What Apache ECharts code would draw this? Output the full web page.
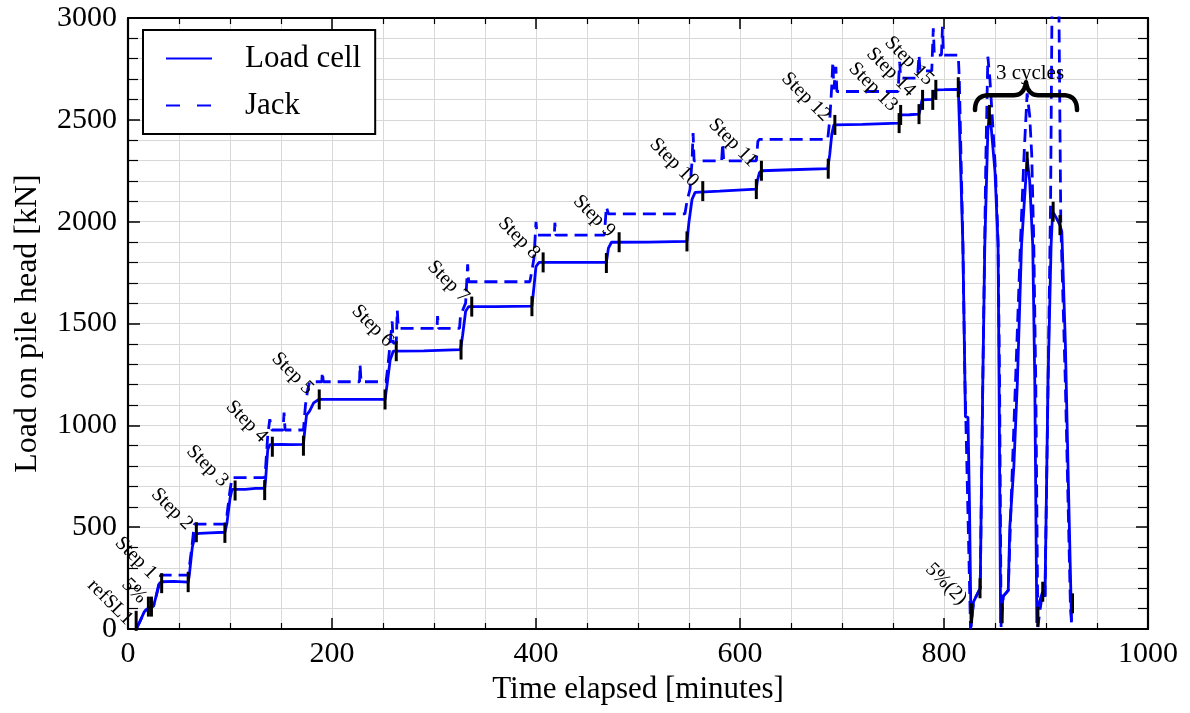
<!DOCTYPE html>
<html>
<head>
<meta charset="utf-8">
<script src="https://cdn.jsdelivr.net/npm/echarts@6/dist/echarts.min.js"></script>
<style>
  html, body { margin: 0; padding: 0; background: #fff; }
  #chart { width: 1190px; height: 713px; }
</style>
</head>
<body>
<div id="chart"></div>
<script>
// Axis ticks (labelled values)
const xTickLabels = [0, 200, 400, 600, 800, 1000];
const yTickLabels = [0, 500, 1000, 1500, 2000, 2500, 3000];

// Load cell reading: [time (min), load (kN)]
const loadCell = [
  [8, 0], [12, 40], [16, 85], [18, 95], [22, 108], [25, 112], [28, 170], [31, 225], [33, 232], [45, 234], [59, 230],
  [60, 260], [63, 400], [66, 466], [70, 470], [80, 472], [95, 475],
  [97, 520], [100, 640], [102, 686], [115, 686], [125, 690], [134, 690],
  [135, 740], [137, 880], [139, 905], [150, 907], [160, 905], [172, 907],
  [173, 960], [175, 1050], [178, 1070], [182, 1110], [187, 1127], [220, 1127], [252, 1127],
  [254, 1200], [257, 1320], [260, 1364], [290, 1366], [326, 1372],
  [328, 1440], [331, 1560], [334, 1583], [360, 1583], [396, 1585],
  [398, 1680], [400, 1780], [403, 1800], [440, 1800], [469, 1800],
  [471, 1870], [474, 1899], [510, 1900], [548, 1903],
  [550, 2000], [553, 2110], [556, 2144], [580, 2150], [616, 2160],
  [617, 2200], [619, 2240], [621, 2250], [650, 2255], [686, 2260],
  [688, 2330], [690, 2430], [692, 2475], [720, 2478], [756, 2484],
  [757, 2505], [758, 2524], [766, 2525], [775.5, 2528],
  [777, 2560], [778.5, 2598], [789, 2600],
  [790.5, 2630], [792, 2647], [800, 2648], [814, 2650],
  [815, 2500], [818.5, 1885], [820.5, 1222], [821, 1042], [823.5, 1040], [825, 600], [826.5, 10],
  [829, 134], [833, 175], [835.5, 200], [838, 1200], [840, 1885], [843, 2450], [844.5, 2530],
  [846.5, 2450], [850, 2245], [853, 1885], [854, 1200], [855.5, 30],
  [858, 160], [863, 190], [864.5, 500], [868.5, 800], [872, 1220], [876, 1885], [881.5, 2310],
  [884, 2200], [887, 1885], [889, 1220], [891, 30],
  [892, 110], [896.5, 180], [899, 160], [902, 1220], [905, 1885], [906.5, 2050], [910, 2020],
  [913.7, 1983], [915.5, 1950], [919, 1400], [922, 700], [925, 40]
];

// Jack pressure converted to load: [time (min), load (kN)]
const jack = [
  [8, 0], [12, 40], [16, 85], [18, 95], [22, 108], [25, 112], [28, 170], [31, 240], [32, 265], [59, 265],
  [60, 300], [63, 420], [65, 515], [95, 515],
  [97, 560], [100, 680], [102, 743], [134, 743],
  [135, 800], [137, 950], [139, 1030], [141, 977], [152, 977], [153, 1062], [154, 977], [172, 977],
  [174, 1100], [176, 1170], [178, 1214], [190, 1214], [190.5, 1262], [191.5, 1214], [227, 1214], [227.5, 1298], [228.5, 1214], [253, 1214],
  [255, 1300], [257, 1404], [259, 1510], [260, 1404], [263, 1404], [264, 1566], [265, 1476], [303, 1476], [303.5, 1536], [304.5, 1476], [325, 1476],
  [326, 1540], [331, 1600], [333, 1790], [334, 1705], [394, 1705],
  [396, 1760], [398, 1820], [400, 1999], [401, 1934], [418, 1934], [418.5, 1995], [419.5, 1934], [467, 1934],
  [469, 2073], [471, 2038], [546, 2038],
  [548, 2100], [551, 2160], [553, 2300], [554, 2435], [555, 2298], [582, 2298], [583, 2386], [584, 2298], [616, 2298],
  [617.5, 2394], [619, 2404], [686, 2404],
  [688, 2500], [690, 2670], [691, 2786], [692, 2650], [694, 2760], [695, 2639], [755, 2639],
  [756.5, 2785], [757.5, 2705], [774, 2705],
  [775.5, 2818], [776.5, 2740], [788, 2740],
  [789.5, 2950], [790.5, 2818], [797.5, 2818], [798.5, 2957], [799.5, 2818], [814, 2818],
  [815, 2700], [818.5, 1900], [820.5, 1220], [822, 900], [826, 0],
  [829, 134], [835.5, 200], [838, 1200], [841, 2300], [843, 2810], [845, 2700], [847.5, 2500],
  [850.5, 2250], [853, 1900], [854.5, 1200], [856, 10],
  [858, 160], [863, 190], [866, 650], [870, 1200], [875, 1900], [878.5, 2330], [881.5, 2630],
  [884, 2520], [886, 2330], [888, 1900], [890, 1200], [892, 10],
  [896.5, 180], [899, 160], [902, 1200], [904.5, 2100], [906, 3150], [912.5, 3150], [914.5, 2000],
  [919, 1200], [924, 100], [925.5, 0]
];

// Start / end of each load hold: [time (min), load (kN)]
const holdMarks = [
  [8, 40], [20, 110], [23, 110], [33, 225], [59, 230], [67, 475], [95, 472], [105, 680], [134, 682],
  [141.5, 895], [172, 900], [187.5, 1127], [252, 1127], [263, 1364], [326.5, 1372], [337, 1583],
  [396, 1585], [407, 1800], [469, 1797], [481.5, 1899], [548, 1903], [563.5, 2150], [616, 2160],
  [621, 2250], [686.5, 2260], [693, 2475], [756, 2484], [757.5, 2524], [775.5, 2528], [779, 2598],
  [789, 2598], [792, 2647], [814, 2660], [844.5, 2524], [881.5, 2295], [907, 2049], [913.7, 1983],
  [827, 77], [835.3, 200], [857, 77], [892, 60], [896.8, 183], [926, 126]
];

// Text annotations anchored in data space: [time, load, text]
const annotations = [
  [-17.6, 132, 'refSL1'], [5.9, 187, '5%'],
  [7.8, 349, 'Step 1'], [43.1, 589, 'Step 2'], [77.9, 800, 'Step 3'], [116.4, 1018, 'Step 4'],
  [161.3, 1255, 'Step 5'], [239.7, 1488, 'Step 6'], [314, 1705, 'Step 7'], [383.3, 1919, 'Step 8'],
  [456.9, 2027, 'Step 9'], [535.3, 2290, 'Step 10'], [593.1, 2388, 'Step 11'], [664.7, 2612, 'Step 12'],
  [730.4, 2661, 'Step 13'], [748, 2734, 'Step 14'], [765.7, 2789, 'Step 15'],
  [802, 221, '5%(2)']
];
const cyclesNote = [[884.3, 2730, '3 cycles']];
// Brace over the unload-reload cycles: [t start, t end, base load, tip load, cusp load]
const cyclesBrace = [[830.4, 930.4, 2621, 2548, 2685]];

const FONT = '"Liberation Serif", "Times New Roman", serif';
const BLUE = '#0000ff';

const chart = echarts.init(document.getElementById('chart'), null, { renderer: 'canvas' });

const xStep = xTickLabels[1] - xTickLabels[0];
const yStep = yTickLabels[1] - yTickLabels[0];
const plain = v => String(v);

function frameAxis(base) {
  return Object.assign({
    axisLine: { show: true, onZero: false, lineStyle: { color: '#000', width: 2.2 } },
    axisTick: { show: true, inside: true, lineStyle: { color: '#000', width: 1.5 } },
    minorTick: { show: true, lineStyle: { color: '#000', width: 1.2 } },
    splitLine: { show: false },
    minorSplitLine: { show: false },
    axisLabel: { show: false }
  }, base);
}

const option = {
  backgroundColor: '#fff',
  animation: false,
  grid: { left: 128, right: 42, top: 18, bottom: 84, containLabel: false },
  legend: {
    data: [
      { name: 'Load cell' },
      { name: 'Jack', lineStyle: { type: [14, 17] } }
    ],
    orient: 'vertical',
    left: 143, top: 30,
    padding: [13, 14, 13, 22],
    itemWidth: 46, itemHeight: 16, itemGap: 16,
    itemStyle: { opacity: 0 },
    borderColor: '#000', borderWidth: 2, backgroundColor: '#fff',
    textStyle: { fontFamily: FONT, fontSize: 31, color: '#000', padding: [0, 0, 0, 28] }
  },
  xAxis: [
    frameAxis({
      type: 'value', position: 'bottom', min: xTickLabels[0], max: xTickLabels[xTickLabels.length - 1], interval: xStep,
      axisTick: { show: true, inside: true, length: 11, lineStyle: { color: '#000', width: 1.5 } },
      minorTick: { show: true, splitNumber: 4, length: 6, lineStyle: { color: '#000', width: 1.2 } },
      splitLine: { show: true, lineStyle: { color: '#d8d8d8', width: 1 } },
      minorSplitLine: { show: true, lineStyle: { color: '#d8d8d8', width: 1 } },
      axisLabel: { show: true, fontFamily: FONT, fontSize: 30, color: '#000', margin: 10, formatter: plain },
      name: 'Time elapsed [minutes]', nameLocation: 'middle', nameGap: 45,
      nameTextStyle: { fontFamily: FONT, fontSize: 31, color: '#000' }
    }),
    frameAxis({
      type: 'value', position: 'top', min: xTickLabels[0], max: xTickLabels[xTickLabels.length - 1], interval: xStep,
      axisTick: { show: true, inside: true, length: 11, lineStyle: { color: '#000', width: 1.5 } },
      minorTick: { show: true, splitNumber: 4, length: 6, lineStyle: { color: '#000', width: 1.2 } }
    })
  ],
  yAxis: [
    frameAxis({
      type: 'value', position: 'left', min: yTickLabels[0], max: yTickLabels[yTickLabels.length - 1], interval: yStep,
      axisTick: { show: true, inside: true, length: 12, lineStyle: { color: '#000', width: 1.5 } },
      minorTick: { show: true, splitNumber: 5, length: 10, lineStyle: { color: '#000', width: 1.2 } },
      splitLine: { show: true, lineStyle: { color: '#d8d8d8', width: 1 } },
      minorSplitLine: { show: true, lineStyle: { color: '#d8d8d8', width: 1 } },
      axisLabel: { show: true, fontFamily: FONT, fontSize: 30, color: '#000', margin: 11, formatter: plain },
      name: 'Load on pile head [kN]', nameLocation: 'middle', nameGap: 84,
      nameTextStyle: { fontFamily: FONT, fontSize: 32, color: '#000' }
    }),
    frameAxis({
      type: 'value', position: 'right', min: yTickLabels[0], max: yTickLabels[yTickLabels.length - 1], interval: yStep,
      axisTick: { show: true, inside: true, length: 12, lineStyle: { color: '#000', width: 1.5 } },
      minorTick: { show: true, splitNumber: 5, length: 10, lineStyle: { color: '#000', width: 1.2 } }
    })
  ],
  series: [
    {
      name: 'Load cell', type: 'line', data: loadCell,
      symbol: 'none', showSymbol: false, clip: true, z: 3,
      lineStyle: { color: BLUE, width: 2.8 }, itemStyle: { color: BLUE }
    },
    {
      name: 'Jack', type: 'line', data: jack,
      symbol: 'none', showSymbol: false, clip: true, z: 2,
      lineStyle: { color: BLUE, width: 2.8, type: [13, 7] }, itemStyle: { color: BLUE }
    },
    {
      name: 'Hold marks', type: 'scatter', data: holdMarks,
      symbol: 'rect', symbolSize: [3, 20], z: 4, silent: true,
      itemStyle: { color: '#000', opacity: 1 }
    },
    {
      name: 'Step labels', type: 'scatter', clip: false, z: 5, silent: true,
      symbolSize: 0, itemStyle: { opacity: 1 },
      data: annotations.map(a => ({ value: [a[0], a[1]], name: a[2] })),
      label: {
        show: true, position: 'inside', rotate: -45, formatter: '{b}',
        fontFamily: FONT, fontSize: 20, color: '#000', opacity: 1
      }
    },
    {
      name: 'Cycles note', type: 'scatter', clip: false, z: 5, silent: true,
      symbolSize: 0, itemStyle: { opacity: 1 },
      data: cyclesNote.map(a => ({ value: [a[0], a[1]], name: a[2] })),
      label: {
        show: true, position: 'inside', formatter: '{b}',
        fontFamily: FONT, fontSize: 21, color: '#000', opacity: 1
      }
    },
    {
      name: 'Cycles brace', type: 'custom', clip: false, z: 5, silent: true,
      data: cyclesBrace,
      encode: { x: [0, 1], y: [2, 3, 4] },
      renderItem: function (params, api) {
        const pL = api.coord([api.value(0), api.value(2)]);
        const pR = api.coord([api.value(1), api.value(3)]);
        const yB = pL[1], yT = pR[1];
        const yC = api.coord([api.value(0), api.value(4)])[1];
        const x0 = pL[0], x1 = pR[0], xM = (x0 + x1) / 2;
        const pts = [];
        function quad(a, c, b) {
          for (let i = 0; i <= 12; i++) {
            const t = i / 12, u = 1 - t;
            pts.push([u * u * a[0] + 2 * u * t * c[0] + t * t * b[0],
                      u * u * a[1] + 2 * u * t * c[1] + t * t * b[1]]);
          }
        }
        quad([x0, yT], [x0, yB], [x0 + 14, yB]);
        quad([xM - 12, yB], [xM - 2, yB], [xM, yC]);
        quad([xM, yC], [xM + 2, yB], [xM + 12, yB]);
        quad([x1 - 14, yB], [x1, yB], [x1, yT]);
        return {
          type: 'polyline',
          shape: { points: pts },
          style: { stroke: '#000', lineWidth: 4.5, fill: null, lineJoin: 'round', lineCap: 'round' }
        };
      }
    }
  ]
};

chart.setOption(option);
</script>
</body>
</html>
